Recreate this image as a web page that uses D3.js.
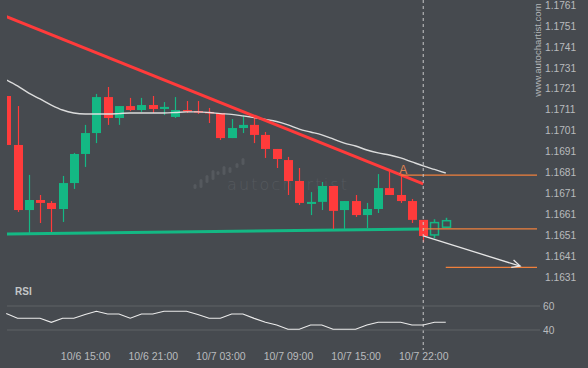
<!DOCTYPE html>
<html><head><meta charset="utf-8">
<script src="https://cdn.jsdelivr.net/npm/d3@7"></script>
<style>html,body{margin:0;padding:0;background:#464a4f;}svg{display:block;}</style>
</head><body>
<svg id="chart" width="588" height="368"></svg>
<script>
// ---- data ----
const openP  = [1.17175,1.16941,1.16630,1.16678,1.16664,1.16635,1.16759,1.16898,1.16998,1.17170,1.17070,1.17127,1.17108,1.17132,1.17113,1.17075,1.17108,1.17103,1.17099,1.17094,1.16974,1.17022,1.17037,1.16989,1.16922,1.16869,1.16769,1.16659,1.16669,1.16745,1.16630,1.16673,1.16606,1.16635,1.16735,1.16702,1.16673,1.16583,1.16511,1.16548];
const highP  = [1.17175,1.17127,1.16798,1.16702,1.16673,1.16793,1.16903,1.17037,1.17185,1.17218,1.17127,1.17166,1.17166,1.17175,1.17146,1.17170,1.17151,1.17151,1.17118,1.17094,1.17065,1.17080,1.17075,1.17003,1.16922,1.16884,1.16831,1.16716,1.16764,1.16745,1.16673,1.16702,1.16664,1.16802,1.16817,1.16797,1.16683,1.16583,1.16586,1.16593];
const lowP   = [1.16941,1.16621,1.16520,1.16568,1.16525,1.16573,1.16731,1.16836,1.16950,1.17037,1.17037,1.17103,1.17099,1.17094,1.17084,1.17070,1.17094,1.17089,1.17046,1.16965,1.16974,1.16998,1.16950,1.16879,1.16831,1.16702,1.16654,1.16606,1.16630,1.16540,1.16540,1.16597,1.16544,1.16616,1.16702,1.16664,1.16568,1.16477,1.16495,1.16548];
const closeP = [1.16941,1.16630,1.16678,1.16664,1.16635,1.16759,1.16898,1.16998,1.17170,1.17070,1.17127,1.17108,1.17132,1.17113,1.17123,1.17108,1.17103,1.17099,1.17094,1.16974,1.17022,1.17037,1.16989,1.16922,1.16874,1.16769,1.16664,1.16669,1.16745,1.16626,1.16673,1.16606,1.16635,1.16735,1.16702,1.16673,1.16583,1.16506,1.16570,1.16579];
const firstHollow = 38;
const maValues = [1.17252,1.17223,1.17189,1.17161,1.17132,1.17108,1.17094,1.17089,1.17089,1.17089,1.17091,1.17094,1.17094,1.17094,1.17094,1.17096,1.17099,1.17099,1.17096,1.17091,1.17087,1.17080,1.17072,1.17063,1.17053,1.17037,1.17017,1.17003,1.16989,1.16970,1.16950,1.16936,1.16917,1.16903,1.16893,1.16879,1.16860,1.16841,1.16824,1.16807];
const rsiValues = [53.8,49.8,49.8,49.8,46.4,49.8,49.8,52.9,55.6,53.3,53.3,49.8,53.3,53.3,55.6,55.6,55.6,52.9,49.8,49.8,53.3,53.3,49.7,46.4,44.2,40.6,40.6,44.2,44.2,40.6,40.6,40.6,44.2,46.4,46.4,46.4,44.2,44.2,46.4,46.4];
const resistanceLine = [[0,1.17555],[37,1.16755]];
const supportLine = [[0,1.16516],[37,1.16540]];
const levelA = {start:35, price:1.16797};
const levelSupport = {start:37, price:1.16540};
const levelTarget = {start:39, price:1.16356};
const forecastArrow = [[37,1.16506],[45.6,1.16362]];
const priceTicks = [1.1631,1.1641,1.1651,1.1661,1.1671,1.1681,1.1691,1.1701,1.1711,1.1721,1.1731,1.1741,1.1751,1.1761];
const rsiTicks = [40,60];
const timeTickIdx = [7,13,19,25,31,37];
const timeTickLabels = ["10/6 15:00","10/6 21:00","10/7 03:00","10/7 09:00","10/7 15:00","10/7 22:00"];
const markerIdx = 37;

// ---- layout ----
const W=588,H=368;
const plotL=7, plotR=537;
const FONT='"Liberation Sans", Arial, sans-serif';
const BG='#464a4f', RED='#ff3b3b', GREEN='#14b884', ORANGE='#f0803c', TXT='#b9bbbe';

const svg=d3.select('#chart');
svg.append('rect').attr('width',W).attr('height',H).attr('fill',BG);

const x=d3.scaleLinear().domain([0,39]).range([6.23,445.76]);
const y=d3.scaleLinear().domain([1.1631,1.1761]).range([277,5]);
const yr=d3.scaleLinear().domain([40,60]).range([330,306]);

const defs=svg.append('defs');
defs.append('clipPath').attr('id','pc').append('rect').attr('x',plotL).attr('y',0).attr('width',plotR-plotL).attr('height',292);

// watermark
const wm=svg.append('g');
const logoBars=[[195,184,189],[201,179,188],[207,175,183],[213,170,180],[218,171,175],[224,166,175],[230,167,173],[237,163,168],[243,158,165]];
wm.selectAll('rect').data(logoBars).enter().append('rect')
  .attr('x',d=>d[0]-1.5).attr('y',d=>d[1]).attr('width',3).attr('height',d=>d[2]-d[1]).attr('rx',1.5)
  .attr('fill','#55595e');
wm.append('text').attr('x',227).attr('y',190).attr('textLength',120).attr('lengthAdjust','spacing')
  .attr('font-family','"DejaVu Sans", sans-serif').attr('font-size',16).attr('font-weight',300)
  .attr('fill','#55595e').text('autochartist');

const plot=svg.append('g').attr('clip-path','url(#pc)');

// support line (below candles)
const ln=d3.line().x(d=>x(d[0])).y(d=>y(d[1]));
plot.append('path').datum(supportLine).attr('d',ln).attr('stroke',GREEN).attr('stroke-width',3).attr('fill','none');

// candles
const candles=openP.map((o,i)=>({i,o,h:highP[i],l:lowP[i],c:closeP[i]}));
const cg=plot.append('g');
const cw=9;
candles.forEach(d=>{
  const up=d.c>=d.o, col=up?GREEN:RED, hollow=d.i>=firstHollow;
  const top=y(Math.max(d.o,d.c)), bot=y(Math.min(d.o,d.c));
  const cx=Math.round(x(d.i))+0.5;
  if(hollow){
    cg.append('line').attr('x1',cx).attr('x2',cx).attr('y1',y(d.h)).attr('y2',top).attr('stroke',col).attr('stroke-width',1.5);
    cg.append('line').attr('x1',cx).attr('x2',cx).attr('y1',bot).attr('y2',y(d.l)).attr('stroke',col).attr('stroke-width',1.5);
    cg.append('rect').attr('x',cx-cw/2+0.5).attr('y',top).attr('width',cw-1).attr('height',Math.max(1,bot-top))
      .attr('fill','none').attr('stroke',col).attr('stroke-width',1.5);
  } else {
    cg.append('line').attr('x1',cx).attr('x2',cx).attr('y1',y(d.h)).attr('y2',y(d.l)).attr('stroke',col).attr('stroke-width',1.2);
    cg.append('rect').attr('x',cx-cw/2).attr('y',top).attr('width',cw).attr('height',Math.max(1.5,bot-top)).attr('fill',col);
  }
});

// moving average
plot.append('path').datum(maValues).attr('d',d3.line().curve(d3.curveMonotoneX).x((d,i)=>x(i)).y(d=>y(d)))
  .attr('stroke','#e4e4e4').attr('stroke-width',1.4).attr('fill','none').attr('opacity',0.95);

// resistance trend line
plot.append('path').datum(resistanceLine).attr('d',ln).attr('stroke',RED).attr('stroke-width',3).attr('fill','none');

// orange levels
[levelA,levelSupport,levelTarget].forEach(l=>{
  plot.append('line').attr('x1',x(l.start)).attr('x2',plotR).attr('y1',y(l.price)).attr('y2',y(l.price))
    .attr('stroke',ORANGE).attr('stroke-width',1.4);
});

// forecast arrow
const a0=[x(forecastArrow[0][0]),y(forecastArrow[0][1])], a1=[x(forecastArrow[1][0]),y(forecastArrow[1][1])];
plot.append('line').attr('x1',a0[0]).attr('y1',a0[1]).attr('x2',a1[0]).attr('y2',a1[1]).attr('stroke','#e6e6e6').attr('stroke-width',1.3);
const ang=Math.atan2(a1[1]-a0[1],a1[0]-a0[0]);
const hl=9, ha=0.45;
plot.append('path').attr('d',`M${a1[0]-hl*Math.cos(ang-ha)},${a1[1]-hl*Math.sin(ang-ha)}L${a1[0]},${a1[1]}L${a1[0]-hl*Math.cos(ang+ha)},${a1[1]-hl*Math.sin(ang+ha)}`)
  .attr('stroke','#e6e6e6').attr('stroke-width',1.3).attr('fill','none');

// A marker
svg.append('text').attr('x',x(levelA.start)+2.5).attr('y',y(levelA.price)-1.5).attr('text-anchor','middle')
  .attr('font-family',FONT).attr('font-size',12).attr('fill','#e08250').text('A');

// dashed marker line
svg.append('line').attr('x1',x(markerIdx)).attr('x2',x(markerIdx)).attr('y1',0).attr('y2',350)
  .attr('stroke','#c8c8c8').attr('stroke-width',1).attr('stroke-dasharray','3,3');

// RSI panel
svg.selectAll('line.rg').data(rsiTicks).enter().append('line').attr('class','rg')
  .attr('x1',plotL).attr('x2',plotR+3).attr('y1',d=>yr(d)).attr('y2',d=>yr(d)).attr('stroke','#5e6267').attr('stroke-width',1);
svg.append('path').datum(rsiValues).attr('d',d3.line().x((d,i)=>x(i)).y(d=>yr(d)))
  .attr('stroke','#ececec').attr('stroke-width',1.1).attr('fill','none');
svg.append('text').attr('x',15).attr('y',295).attr('font-family',FONT).attr('font-size',10).attr('font-weight','bold')
  .attr('fill','#c4c6c8').text('RSI');

// axes
const yAx=svg.append('g').attr('transform',`translate(541,0)`)
  .call(d3.axisRight(y).tickValues(priceTicks).tickFormat(d3.format('.4f')).tickSize(0).tickPadding(4));
const rAx=svg.append('g').attr('transform',`translate(541,0)`)
  .call(d3.axisRight(yr).tickValues(rsiTicks).tickFormat(d3.format('d')).tickSize(0).tickPadding(2));
const xAx=svg.append('g').attr('transform',`translate(0,350)`)
  .call(d3.axisBottom(x).tickValues(timeTickIdx).tickFormat((d,i)=>timeTickLabels[i]).tickSize(0).tickPadding(3));
[yAx,rAx,xAx].forEach(g=>{
  g.select('.domain').remove();
  g.selectAll('text').attr('font-family',FONT).attr('fill',TXT);
});
yAx.selectAll('text').attr('font-size',10.2);
rAx.selectAll('text').attr('font-size',10.2);
xAx.selectAll('text').attr('font-size',10.5);

// vertical site text
svg.append('text').attr('transform','translate(540.5,50) rotate(-90)').attr('text-anchor','middle')
  .attr('font-family',FONT).attr('font-size',9.6).attr('fill','#b4b6b8').text('www.autochartist.com');
</script>
</body></html>
